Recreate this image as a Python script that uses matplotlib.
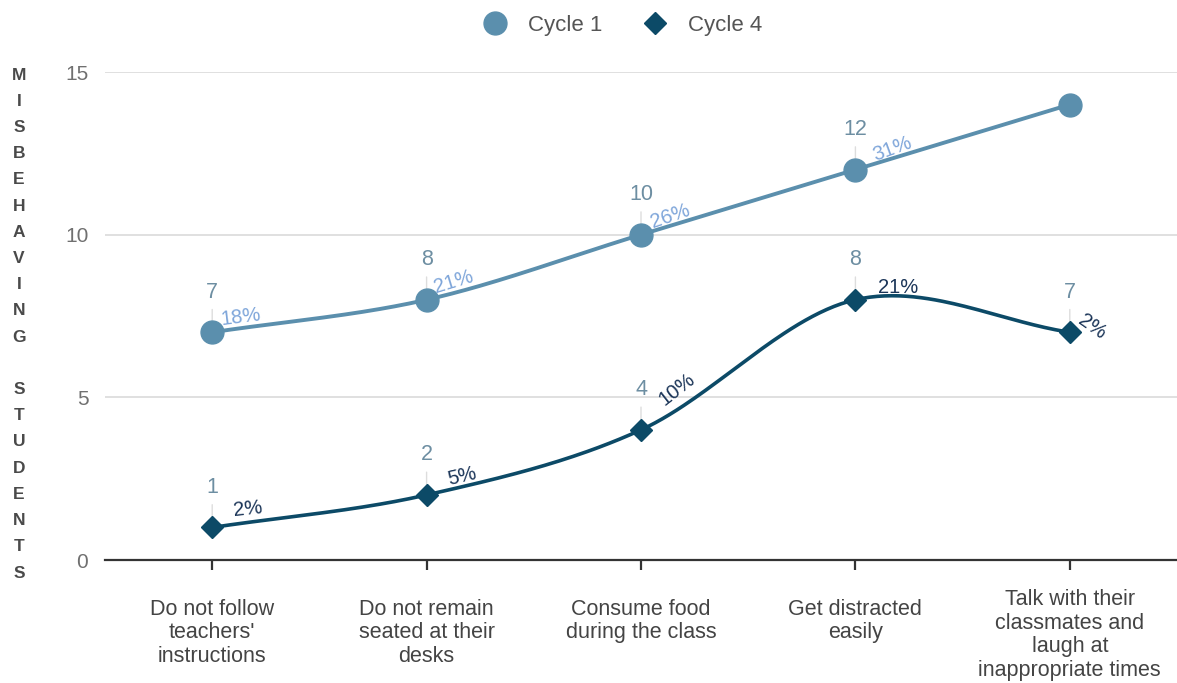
import numpy as np
import matplotlib
matplotlib.use("Agg")
import matplotlib.pyplot as plt
from matplotlib.lines import Line2D
from matplotlib.transforms import ScaledTranslation

plt.rcParams['font.family'] = ['Liberation Sans', 'DejaVu Sans']

# ---- data ----
categories = [
    "Do not follow\nteachers'\ninstructions",
    "Do not remain\nseated at their\ndesks",
    "Consume food\nduring the class",
    "Get distracted\neasily",
    "Talk with their\nclassmates and\nlaugh at\ninappropriate times",
]
cycle1_values = [7, 8, 10, 12, 14]
cycle1_counts = ["7", "8", "10", "12", None]
cycle1_pcts = ["18%", "21%", "26%", "31%", None]

cycle4_values = [1, 2, 4, 8, 7]
cycle4_counts = ["1", "2", "4", "8", "7"]
cycle4_pcts = ["2%", "5%", "10%", "21%", "2%"]

y_ticks = [0, 5, 10, 15]
y_title = "MISBEHAVING STUDENTS"

# ---- styling ----
C1_LINE = "#5b8fad"
C4_LINE = "#0c4a67"
C1_PCT = "#7fa6da"
C4_PCT = "#1b3558"
COUNT_COL = "#6d8ea2"
TEXT_COL = "#555555"


def catmull_rom(xs, ys, n=60):
    """Smooth curve through the points (uniform Catmull-Rom / Hermite)."""
    xs = np.asarray(xs, float)
    ys = np.asarray(ys, float)
    k = len(ys)
    m = np.empty(k)
    m[0] = ys[1] - ys[0]
    m[-1] = ys[-1] - ys[-2]
    m[1:-1] = (ys[2:] - ys[:-2]) / 2.0
    out_x, out_y = [], []
    for i in range(k - 1):
        t = np.linspace(0, 1, n, endpoint=(i == k - 2))
        h00 = (1 + 2 * t) * (1 - t) ** 2
        h10 = t * (1 - t) ** 2
        h01 = t ** 2 * (3 - 2 * t)
        h11 = t ** 2 * (t - 1)
        out_y.append(h00 * ys[i] + h10 * m[i] + h01 * ys[i + 1] + h11 * m[i + 1])
        out_x.append(xs[i] + t * (xs[i + 1] - xs[i]))
    return np.concatenate(out_x), np.concatenate(out_y)


fig = plt.figure(figsize=(11.77, 6.83), dpi=100)
ax = fig.add_axes([105 / 1177, 1 - 560 / 683, 1 - 105 / 1177, (560 - 72) / 683])

x = np.arange(len(categories))

# gridlines
ax.set_ylim(0, 15)
ax.set_xlim(-0.5, 4.5)
ax.set_yticks(y_ticks)
ax.yaxis.grid(True, color="#dddddd", linewidth=1.3)
ax.set_axisbelow(True)
for s in ["top", "right", "left"]:
    ax.spines[s].set_visible(False)
ax.spines["bottom"].set_color("#333333")
ax.spines["bottom"].set_linewidth(1.6)
ax.spines["bottom"].set_zorder(1)

ax.tick_params(axis="y", length=0, pad=12, labelsize=15, labelcolor="#707070")
ax.set_xticks(x)
ax.set_xticklabels(categories, fontsize=15.5, color="#444444", linespacing=1.16,
                   va="top")
ax.tick_params(axis="x", length=7, width=1.6, color="#333333", pad=21)

# the four-line label sits a little higher so it fits above the bottom edge
last = ax.get_xticklabels()[-1]
last.set_transform(last.get_transform()
                   + ScaledTranslation(0, 7 / 72, fig.dpi_scale_trans))

# series
sx, sy = catmull_rom(x, cycle1_values)
ax.plot(sx, sy, color=C1_LINE, linewidth=2.8, zorder=3, solid_capstyle="round")
ax.plot(x, cycle1_values, linestyle="none", marker="o", markersize=16.5,
        color=C1_LINE, zorder=4, clip_on=False)

sx, sy = catmull_rom(x, cycle4_values)
ax.plot(sx, sy, color=C4_LINE, linewidth=2.6, zorder=3, solid_capstyle="round")
ax.plot(x, cycle4_values, linestyle="none", marker="D", markersize=11.5,
        color=C4_LINE, zorder=4, clip_on=False)

# count labels with leader lines
for vals, counts in [(cycle1_values, cycle1_counts), (cycle4_values, cycle4_counts)]:
    for xi, v, c in zip(x, vals, counts):
        if c is None:
            continue
        ax.annotate(c, xy=(xi, v), xytext=(0, 25), textcoords="offset points",
                    ha="center", va="baseline", fontsize=15.5, color=COUNT_COL,
                    zorder=2,
                    arrowprops=dict(arrowstyle="-", color="#dddddd", lw=1.0,
                                    shrinkA=3, shrinkB=0))

# percentage labels
c1_offsets = [(6.5, 5), (6.5, 4.5), (9, 5), (14, 6.5), None]
c1_rot = [7, 17, 19, 20, 0]
c4_offsets = [(16, 8), (16, 7), (17, 17), (16, 5), (5, 7)]
c4_rot = [6, 13, 38, 0, -35]

for vals, pcts, offs, rots, col in [
    (cycle1_values, cycle1_pcts, c1_offsets, c1_rot, C1_PCT),
    (cycle4_values, cycle4_pcts, c4_offsets, c4_rot, C4_PCT),
]:
    for xi, v, p, o, r in zip(x, vals, pcts, offs, rots):
        if p is None:
            continue
        ax.annotate(p, xy=(xi, v), xytext=o, textcoords="offset points",
                    ha="left", va="baseline", fontsize=14.5, color=col,
                    rotation=r, rotation_mode="anchor", zorder=5)

# legend
handles = [
    Line2D([], [], linestyle="none", marker="o", markersize=16.5, color=C1_LINE),
    Line2D([], [], linestyle="none", marker="D", markersize=11.5, color=C4_LINE),
]
fig.legend(handles, ["Cycle 1", "Cycle 4"], loc="center",
           bbox_to_anchor=(622 / 1177, 1 - 25 / 683), ncol=2, frameon=False,
           fontsize=16, labelcolor=TEXT_COL, handlelength=1.2,
           handletextpad=0.9, columnspacing=1.75)

# stacked vertical axis title
y0, y1 = 75, 573
step = (y1 - y0) / (len(y_title) - 1)
for i, ch in enumerate(y_title):
    if ch == " ":
        continue
    fig.text(19 / 1177, 1 - (y0 + i * step) / 683, ch, ha="center", va="center",
             fontsize=12.5, fontweight="bold", color="#4a4a4a")

fig.savefig("out.png", dpi=100)
